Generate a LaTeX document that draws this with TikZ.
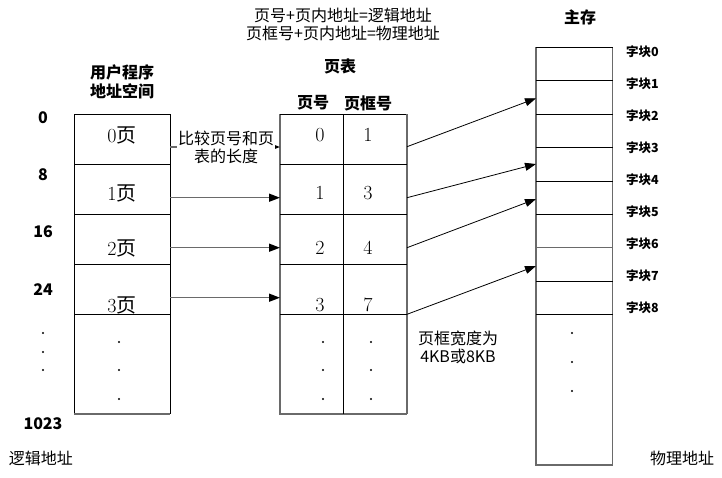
\documentclass[tikz,border=0pt]{standalone}
\usepackage{fontspec}
\setmainfont{Latin Modern Roman}
\newfontfamily\cjk{Noto Sans CJK SC}
\usetikzlibrary{arrows.meta}
\definecolor{edgegray}{HTML}{6A6A6A}
\tikzset{
  lbl/.style={font=\cjk\fontsize{16}{18}\selectfont, inner sep=0pt, align=center},
  blbl/.style={font=\cjk\bfseries\fontsize{16}{19}\selectfont, inner sep=0pt, align=center},
  blk/.style={font=\cjk\bfseries\fontsize{12.5}{14}\selectfont, inner sep=0pt, anchor=west},
  addr/.style={font=\cjk\bfseries\fontsize{16}{18}\selectfont, inner sep=0pt},
  pg/.style={font=\fontsize{20}{22}\selectfont, inner sep=0pt},
  box/.style={draw=black, line width=1pt},
  gbox/.style={draw=edgegray, line width=1.3pt},
  dotm/.style={fill=black, circle, inner sep=0pt, minimum size=2.2pt},
  garrow/.style={draw=edgegray, line width=1.5pt, -{Triangle[length=11pt,width=8pt,color=black]}},
  karrow/.style={draw=black, line width=0.8pt, -{Triangle[length=11pt,width=8pt]}},
}
\begin{document}
\begin{tikzpicture}[x=1pt,y=-1pt]
\useasboundingbox (0,0) rectangle (722,477);
% ---------- titles ----------
\node[lbl] (f1) at (343,15) {页号+页内地址=逻辑地址};
\node[lbl] (f2) at (343,33) {页框号+页内地址=物理地址};
\node[blbl] (ut) at (122,82) {用户程序\\地址空间};
\node[blbl] (pt) at (340,66) {页表};
\node[blbl] (ph1) at (313,103) {页号};
\node[blbl] (ph2) at (368,103) {页框号};
\node[blbl] (mt) at (580,17) {主存};
% ---------- left box ----------
\draw[box] (74,414) -- (74,114) -- (170,114) -- (170,414);
\draw[gbox] (74,414) -- (170,414);
\foreach \y in {164,214,264,314} \draw[box] (74,\y) -- (170,\y);
\node[pg] (p0) at (122,135) {0{\cjk 页}};
\node[pg] (p1) at (122,193) {1{\cjk 页}};
\node[pg] (p2) at (122,248) {2{\cjk 页}};
\node[pg] (p3) at (122,305) {3{\cjk 页}};
\foreach \y [count=\i] in {342,370,399} \node[dotm] (ld\i) at (119,\y) {};
% ---------- address labels ----------
\node[addr] (a0) at (43,118) {0};
\node[addr] (a8) at (43,175) {8};
\node[addr] (a16) at (43,232) {16};
\node[addr] (a24) at (43,290) {24};
\foreach \y [count=\i] in {333,352,370} \node[dotm] (ad\i) at (43,\y) {};
\node[addr] (a1023) at (43,424) {1023};
\node[lbl] (la) at (41,458) {逻辑地址};
% ---------- page table ----------
\draw[gbox] (280,114) -- (280,414) -- (407,414);
\draw[box] (280,114) -- (407,114);
\draw[gbox] (407,114) -- (407,414);
\draw[box] (343,114) -- (343,414);
\foreach \y in {164,214,264,314} \draw[box] (280,\y) -- (407,\y);
\node[pg] (n0) at (320,135) {0};
\node[pg] (n1) at (320,193) {1};
\node[pg] (n2) at (320,248) {2};
\node[pg] (n3) at (320,305) {3};
\node[pg] (k0) at (368,135) {1};
\node[pg] (k1) at (368,193) {3};
\node[pg] (k2) at (368,248) {4};
\node[pg] (k3) at (368,305) {7};
\foreach \y [count=\i] in {342,370,399} {
  \node[dotm] (pd\i) at (323,\y) {};
  \node[dotm] (fd\i) at (371,\y) {};
}
\node[lbl] (fw) at (458,347) {页框宽度为\\4KB或8KB};
% ---------- main memory ----------
\draw[gbox] (536,47.3) -- (536,465) -- (612.7,465) -- (612.7,47.3);
\draw[box] (536,47.3) -- (612.7,47.3);
\foreach \y in {80.7,114,147.3,181,214.3,281,314.3} \draw[box] (536,\y) -- (612.7,\y);
\draw[gbox] (536,247.7) -- (612.7,247.7);
\foreach \i in {0,...,8} \node[blk] (b\i) at (626,52+32*\i) {字块\i};
\foreach \y [count=\i] in {333,362,391} \node[dotm] (md\i) at (572,\y) {};
\node[lbl] (pa) at (682,458) {物理地址};
% ---------- arrows left -> page table ----------
\coordinate (ls0) at (170,147);  \coordinate (le0) at (280,147);
\coordinate (ls1) at (170,197.7); \coordinate (le1) at (280,197.7);
\coordinate (ls2) at (170,247.7); \coordinate (le2) at (280,247.7);
\coordinate (ls3) at (170,297.7); \coordinate (le3) at (280,297.7);
\draw[garrow] (ls0) -- (le0);
\node[lbl, fill=white, inner sep=1pt] (cmp) at (226,147) {比较页号和页\\表的长度};
\draw[garrow] (ls1) -- (le1);
\draw[garrow] (ls2) -- (le2);
\draw[garrow] (ls3) -- (le3);
% ---------- arrows page table -> memory ----------
\coordinate (rs0) at (407,146.7); \coordinate (re0) at (536,98.3);
\coordinate (rs1) at (407,197.7); \coordinate (re1) at (536,164);
\coordinate (rs2) at (407,247.7); \coordinate (re2) at (536,199);
\coordinate (rs3) at (407,314.3); \coordinate (re3) at (536,266);
\foreach \i in {0,...,3} \draw[karrow] (rs\i) -- (re\i);
\end{tikzpicture}
\end{document}
